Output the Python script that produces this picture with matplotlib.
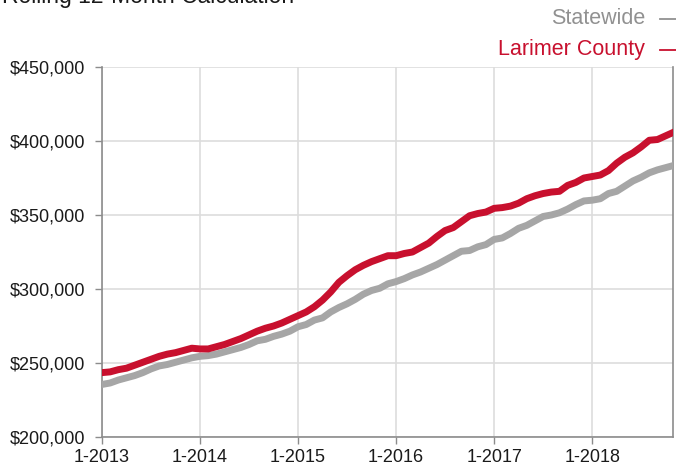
import matplotlib
matplotlib.use("Agg")
import matplotlib.pyplot as plt
from matplotlib.lines import Line2D
import numpy as np

# Monthly values, 1-2013 .. 11-2018 (rolling 12-month)
statewide = [
    235.5, 236.5, 238.5, 240.0, 241.5, 243.5, 246.0, 248.0, 249.0, 250.5, 252.0, 253.5,   # 2013
    254.5, 255.0, 256.0, 257.5, 259.0, 260.5, 262.5, 265.0, 266.0, 268.0, 269.5, 271.5,   # 2014
    274.5, 276.0, 279.0, 280.5, 284.5, 287.5, 290.0, 293.0, 296.5, 299.0, 300.5, 303.5,   # 2015
    305.0, 307.0, 309.5, 311.5, 314.0, 316.5, 319.5, 322.5, 325.5, 326.0, 328.5, 330.0,   # 2016
    333.5, 334.5, 337.5, 341.0, 343.0, 346.0, 349.0, 350.0, 351.5, 354.0, 357.0, 359.5,   # 2017
    360.0, 361.0, 364.5, 366.0, 369.5, 373.0, 375.5, 378.5, 380.5, 382.0, 383.5,          # 2018
]
larimer = [
    243.5, 244.0, 245.5, 246.5, 248.5, 250.5, 252.5, 254.5, 256.0, 257.0, 258.5, 260.0,   # 2013
    259.5, 259.5, 261.0, 262.5, 264.5, 266.5, 269.0, 271.5, 273.5, 275.0, 277.0, 279.5,   # 2014
    282.0, 284.5, 288.0, 292.5, 298.0, 304.5, 309.0, 313.0, 316.0, 318.5, 320.5, 322.5,   # 2015
    322.5, 324.0, 325.0, 328.0, 331.0, 335.5, 339.5, 341.5, 345.5, 349.5, 351.0, 352.0,   # 2016
    354.5, 355.0, 356.0, 358.0, 361.0, 363.0, 364.5, 365.5, 366.0, 370.0, 372.0, 375.0,   # 2017
    376.0, 377.0, 380.0, 385.0, 389.0, 392.0, 396.0, 400.5, 401.0, 403.5, 406.0,          # 2018
]
year_labels = ["1-2013", "1-2014", "1-2015", "1-2016", "1-2017", "1-2018"]
y_ticks = [200000, 250000, 300000, 350000, 400000, 450000]
series_names = ["Statewide", "Larimer County"]

RED = "#C8102E"
GRAY = "#A6A6A6"
FONT = "Liberation Sans"

plt.rcParams["font.family"] = [FONT, "DejaVu Sans"]

W, H = 676, 466
fig = plt.figure(figsize=(W / 100, H / 100), dpi=100)
ax = fig.add_axes([102/W, 29/H, 571/W, 370/H])

months = np.arange(len(statewide))
ax.plot(months, np.array(statewide) * 1000, color=GRAY, lw=5.0, solid_joinstyle="round", zorder=3)
ax.plot(months, np.array(larimer) * 1000, color=RED, lw=5.0, solid_joinstyle="round", zorder=4)

ax.set_xlim(0, 69.9)
ax.set_ylim(200000, 450000)
ax.set_yticks(y_ticks)
ax.set_yticklabels([f"${v:,.0f}" for v in y_ticks])
ax.set_xticks(np.arange(len(year_labels)) * 12)
ax.set_xticklabels(year_labels)

ax.grid(True, color="#DDDDDD", lw=1.2)
ax.set_axisbelow(True)
for side in ["left", "bottom", "right"]:
    ax.spines[side].set_color("#8C8C8C")
    ax.spines[side].set_linewidth(1.2)
ax.spines["top"].set_visible(False)

ax.tick_params(axis="both", colors="#8C8C8C", length=5, width=1.0, labelcolor="#1a1a1a", labelsize=13.5)
ax.tick_params(axis="y", pad=7, labelsize=13)
ax.tick_params(axis="x", pad=4, labelsize=13)

# Clipped title at the top
fig.text(2/W, 1 - (-3)/H, "Rolling 12-Month Calculation", fontsize=16.5, color="#1a1a1a",
         ha="left", va="center")

# Legend-like labels at top right
legend_colors = ["#919191", RED]
legend_y = [18, 49]
for name, col, yy in zip(series_names, legend_colors, legend_y):
    fig.text(645/W, 1 - yy/H, name, fontsize=15.5, color=col, ha="right", va="center")
    fig.add_artist(Line2D([660/W, 1.0], [1 - (yy + 1)/H, 1 - (yy + 1)/H],
                          transform=fig.transFigure, color=col, lw=1.3))

fig.savefig("out.png", dpi=100)
